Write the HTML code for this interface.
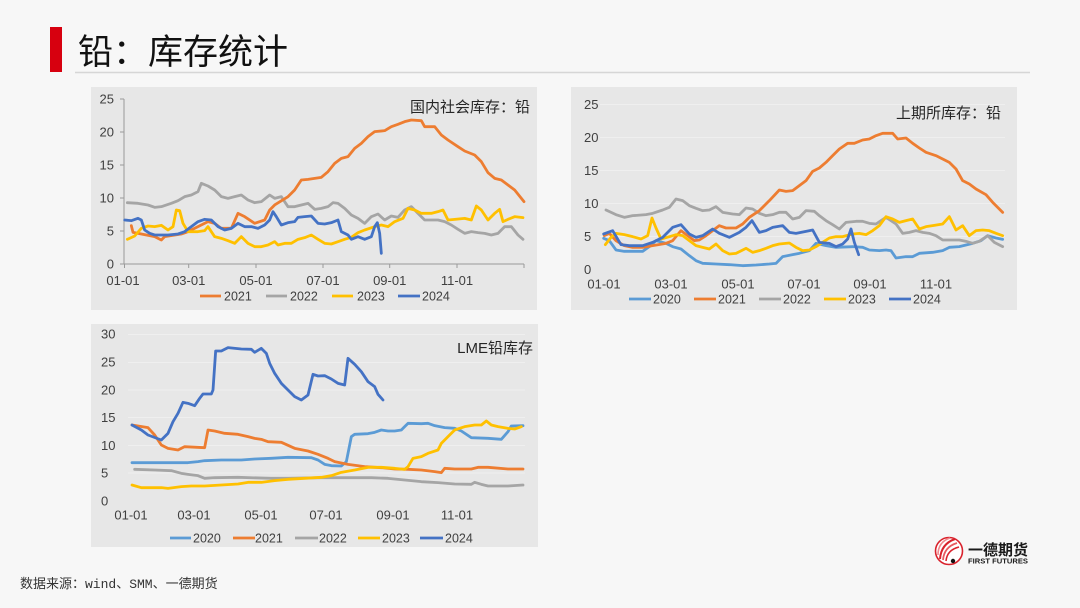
<!DOCTYPE html>
<html><head><meta charset="utf-8"><style>
html,body{margin:0;padding:0;background:#f7f7f7;}
svg{display:block;}
text{font-family:"Liberation Sans","Noto Sans CJK SC",sans-serif;}
.t{font-size:13px;fill:#404040;}
.l{font-size:12.5px;fill:#404040;}
.ttl{font-family:"Liberation Sans","Noto Sans CJK SC",sans-serif;font-size:15px;fill:#262626;}
.s{fill:none;stroke-width:2.8;stroke-linejoin:round;stroke-linecap:round;vector-effect:non-scaling-stroke;}
.c20{stroke:#5b9bd5}.c21{stroke:#ed7d31}.c22{stroke:#a5a5a5}.c23{stroke:#ffc000}.c24{stroke:#4472c4}
.g{stroke:#efefef;stroke-width:1;}
</style></head><body>
<svg width="1080" height="608" viewBox="0 0 1080 608" xmlns="http://www.w3.org/2000/svg">
<rect x="0" y="0" width="1080" height="608" fill="#f7f7f7"/>
<!-- header -->
<rect x="50" y="27" width="12" height="45" fill="#d7000f"/>
<text x="78" y="64" style="font-family:'Liberation Sans','Noto Sans CJK SC',sans-serif;font-size:35px;fill:#111;">铅：库存统计</text>
<line x1="75" y1="72.5" x2="1030" y2="72.5" stroke="#d6d6d6" stroke-width="1.5"/>

<!-- panels -->
<rect x="91" y="87" width="446" height="223" fill="#e7e7e7"/>
<rect x="571" y="87" width="446" height="223" fill="#e7e7e7"/>
<rect x="91" y="324" width="447" height="223" fill="#e7e7e7"/>

<!-- ===== Chart 1 ===== -->
<line x1="124" y1="99" x2="124" y2="264" stroke="#9a9a9a" stroke-width="1"/>
<line x1="124" y1="264" x2="524" y2="264" stroke="#9a9a9a" stroke-width="1"/>
<g stroke="#9a9a9a" stroke-width="1">
<line x1="120" y1="99" x2="124" y2="99"/><line x1="120" y1="132" x2="124" y2="132"/><line x1="120" y1="165" x2="124" y2="165"/><line x1="120" y1="198" x2="124" y2="198"/><line x1="120" y1="231" x2="124" y2="231"/><line x1="120" y1="264" x2="124" y2="264"/>
<line x1="124.5" y1="264" x2="124.5" y2="268"/><line x1="188.7" y1="264" x2="188.7" y2="268"/><line x1="256" y1="264" x2="256" y2="268"/><line x1="323" y1="264" x2="323" y2="268"/><line x1="389.7" y1="264" x2="389.7" y2="268"/><line x1="457" y1="264" x2="457" y2="268"/><line x1="524" y1="264" x2="524" y2="268"/>
</g>
<g class="t" text-anchor="end">
<text x="114" y="103.5">25</text><text x="114" y="136.5">20</text><text x="114" y="169.5">15</text><text x="114" y="202.5">10</text><text x="114" y="235.5">5</text><text x="114" y="268.5">0</text>
</g>
<g class="t" text-anchor="middle">
<text x="123" y="285">01-01</text><text x="188.7" y="285">03-01</text><text x="256" y="285">05-01</text><text x="323" y="285">07-01</text><text x="389.7" y="285">09-01</text><text x="457" y="285">11-01</text>
</g>
<text class="ttl" x="530" y="112" text-anchor="end">国内社会库存：铅</text>
<g transform="translate(88,80) scale(0.33333)">
<polyline class="s c22" points="118,368 150,370 180,375 200,382 220,380 250,370 270,362 290,350 310,345 330,335 340,310 360,318 380,330 400,350 420,355 440,350 460,345 480,360 500,368 520,365 545,345 560,355 580,350 600,380 620,380 640,375 660,370 680,388 700,385 720,380 735,368 750,370 770,385 790,405 810,415 830,430 850,410 870,402 890,420 910,408 930,412 950,390 970,380 990,400 1010,420 1050,420 1070,425 1090,435 1110,448 1130,460 1150,455 1170,458 1190,460 1210,465 1230,460 1250,440 1270,440 1290,465 1305,478"/>
<polyline class="s c21" points="130,437 135,457 160,462 200,470 220,480 230,470 280,462 300,455 330,440 360,425 380,430 400,445 430,445 450,400 470,410 500,430 530,420 545,390 560,375 600,350 620,330 640,300 660,298 700,292 720,275 740,250 760,235 780,230 800,205 820,190 840,170 860,155 890,152 910,140 930,133 950,125 970,120 1000,122 1010,140 1040,140 1060,165 1080,180 1110,200 1130,213 1160,225 1180,245 1200,278 1220,295 1240,300 1260,315 1280,330 1308,365"/>
<polyline class="s c23" points="118,478 140,468 160,445 180,438 200,440 220,436 240,450 255,440 265,390 275,392 285,430 300,455 330,455 350,452 360,440 380,470 400,475 420,482 440,490 460,470 480,490 500,500 520,500 540,495 560,485 570,495 590,490 610,490 630,478 650,473 670,465 690,478 710,490 730,492 750,485 770,478 790,472 810,458 830,450 860,440 880,435 900,440 920,425 945,415 960,385 980,390 1000,400 1030,400 1050,395 1065,390 1080,420 1100,418 1130,415 1150,420 1165,378 1180,390 1200,420 1220,400 1235,388 1245,425 1260,418 1280,410 1305,413"/>
<polyline class="s c24" points="110,420 130,422 150,415 160,420 170,450 185,460 200,465 240,465 270,462 290,455 310,440 330,425 350,418 370,420 390,440 410,450 430,445 450,430 470,440 490,440 510,445 530,435 545,420 555,395 565,410 580,435 600,428 620,425 630,412 650,410 670,408 690,430 710,432 730,428 750,420 760,455 780,465 790,478 810,470 830,478 850,470 860,440 868,428 875,460 880,520"/>
</g>
<g stroke-width="2.8">
<line x1="200" y1="296" x2="221" y2="296" stroke="#ed7d31"/><line x1="266" y1="296" x2="287" y2="296" stroke="#a5a5a5"/><line x1="332" y1="296" x2="353" y2="296" stroke="#ffc000"/><line x1="398" y1="296" x2="420" y2="296" stroke="#4472c4"/>
</g>
<g class="l">
<text x="224" y="300.5">2021</text><text x="290" y="300.5">2022</text><text x="357" y="300.5">2023</text><text x="422" y="300.5">2024</text>
</g>

<!-- ===== Chart 2 ===== -->
<g class="g">
<line x1="600" y1="104.5" x2="1005" y2="104.5"/><line x1="600" y1="137.5" x2="1005" y2="137.5"/><line x1="600" y1="170.5" x2="1005" y2="170.5"/><line x1="600" y1="203.5" x2="1005" y2="203.5"/><line x1="600" y1="236.5" x2="1005" y2="236.5"/>
</g>
<g class="t">
<text x="584" y="109">25</text><text x="584" y="142">20</text><text x="584" y="175">15</text><text x="584" y="208">10</text><text x="584" y="241">5</text><text x="584" y="274">0</text>
</g>
<g class="t" text-anchor="middle">
<text x="604" y="288.5">01-01</text><text x="671" y="288.5">03-01</text><text x="738" y="288.5">05-01</text><text x="804" y="288.5">07-01</text><text x="870" y="288.5">09-01</text><text x="936" y="288.5">11-01</text>
</g>
<text class="ttl" x="1001" y="118" text-anchor="end">上期所库存：铅</text>
<g transform="translate(566,84) scale(0.33333)">
<polyline class="s c20" points="113,463 130,470 150,498 175,502 230,502 250,488 270,470 300,478 320,488 345,495 370,515 390,530 410,538 450,540 490,542 530,545 570,543 610,540 630,538 650,518 680,512 700,508 730,500 750,478 780,485 810,490 860,488 890,490 910,498 940,500 960,498 975,500 990,522 1020,518 1040,518 1060,508 1100,505 1130,500 1150,490 1180,488 1220,478 1245,470 1265,455 1290,462 1310,466"/>
<polyline class="s c22" points="120,378 150,392 175,400 200,395 240,392 260,388 290,378 310,370 330,345 350,350 370,365 390,373 410,380 430,378 450,368 470,385 500,390 520,392 540,372 560,375 580,388 600,395 620,392 640,385 660,385 680,405 700,400 720,380 745,382 760,395 780,410 800,422 820,435 840,415 870,412 890,412 910,418 930,420 960,400 990,420 1010,448 1030,445 1050,440 1070,445 1090,448 1110,455 1130,468 1160,468 1180,468 1200,472 1220,478 1240,472 1265,455 1285,475 1310,488"/>
<polyline class="s c21" points="115,455 130,448 150,470 175,485 200,490 230,490 260,485 300,478 320,470 345,440 365,455 385,470 400,468 420,455 440,440 460,425 480,432 510,432 530,420 550,400 580,380 610,350 640,318 660,322 680,320 700,305 720,290 740,262 760,252 780,235 800,215 820,195 845,178 865,178 890,168 910,165 930,155 950,148 980,148 995,165 1020,162 1040,178 1060,192 1080,205 1110,215 1130,225 1150,235 1170,255 1190,290 1210,300 1230,315 1260,332 1280,355 1310,385"/>
<polyline class="s c23" points="118,482 135,460 150,448 175,452 200,458 225,465 245,455 258,402 270,432 285,465 310,458 330,452 350,455 370,470 390,485 410,490 430,495 450,480 470,500 490,510 510,508 540,493 560,505 580,500 600,493 620,485 640,480 670,477 690,490 710,500 730,498 750,488 770,475 790,462 810,458 830,458 860,450 880,448 900,452 920,440 940,425 960,398 980,405 1000,415 1020,410 1040,405 1060,435 1080,428 1100,425 1130,420 1150,398 1170,438 1190,425 1210,455 1230,440 1250,438 1270,440 1290,448 1310,455"/>
<polyline class="s c24" points="113,450 140,440 165,482 190,485 230,485 260,475 290,460 320,430 345,422 370,450 390,460 410,455 440,435 460,448 490,460 520,445 540,430 558,410 580,445 600,440 620,430 650,425 670,445 690,448 720,442 740,438 760,475 790,478 810,488 830,480 845,465 855,435 865,475 878,512"/>
</g>
<g stroke-width="2.8">
<line x1="629" y1="299" x2="651" y2="299" stroke="#5b9bd5"/><line x1="694" y1="299" x2="716" y2="299" stroke="#ed7d31"/><line x1="759" y1="299" x2="781" y2="299" stroke="#a5a5a5"/><line x1="824" y1="299" x2="846" y2="299" stroke="#ffc000"/><line x1="889" y1="299" x2="911" y2="299" stroke="#4472c4"/>
</g>
<g class="l">
<text x="653" y="303.5">2020</text><text x="718" y="303.5">2021</text><text x="783" y="303.5">2022</text><text x="848" y="303.5">2023</text><text x="913" y="303.5">2024</text>
</g>

<!-- ===== Chart 3 ===== -->
<g class="g">
<line x1="128" y1="334.5" x2="525" y2="334.5"/><line x1="128" y1="362.5" x2="525" y2="362.5"/><line x1="128" y1="390" x2="525" y2="390"/><line x1="128" y1="417.5" x2="525" y2="417.5"/><line x1="128" y1="445.5" x2="525" y2="445.5"/><line x1="128" y1="473" x2="525" y2="473"/>
</g>
<g class="t">
<text x="101" y="338.5">30</text><text x="101" y="366.5">25</text><text x="101" y="394.5">20</text><text x="101" y="422">15</text><text x="101" y="450">10</text><text x="101" y="477.5">5</text><text x="101" y="505.5">0</text>
</g>
<g class="t" text-anchor="middle">
<text x="131" y="519.5">01-01</text><text x="194" y="519.5">03-01</text><text x="261" y="519.5">05-01</text><text x="326" y="519.5">07-01</text><text x="393" y="519.5">09-01</text><text x="457" y="519.5">11-01</text>
</g>
<text class="ttl" x="533" y="353" text-anchor="end">LME铅库存</text>
<g transform="translate(88,315) scale(0.33333)">
<polyline class="s c22" points="140,463 200,465 250,467 280,475 300,478 330,482 350,490 380,488 450,487 550,490 600,490 700,488 760,488 850,488 900,490 950,495 1000,500 1050,503 1100,507 1150,508 1160,502 1180,508 1200,513 1260,513 1305,510"/>
<polyline class="s c20" points="132,443 300,443 330,440 350,437 400,435 460,435 500,432 550,430 600,427 670,428 690,435 710,448 730,452 760,453 775,440 790,365 800,358 840,356 860,352 880,345 900,348 920,348 940,345 950,335 960,325 1000,326 1020,325 1040,332 1070,338 1100,340 1120,348 1150,368 1200,370 1240,373 1260,350 1270,333 1305,332"/>
<polyline class="s c21" points="132,330 180,338 200,360 220,390 240,400 270,405 290,395 350,398 360,345 380,348 410,355 450,358 480,365 500,370 520,373 540,380 580,382 620,400 660,408 690,418 720,430 740,440 780,448 830,455 880,458 920,462 960,463 1000,465 1040,470 1060,473 1070,460 1100,462 1150,462 1170,457 1200,457 1260,462 1305,462"/>
<polyline class="s c23" points="132,510 160,518 220,518 240,520 280,515 310,513 350,513 400,510 450,507 480,502 520,502 560,497 600,493 650,490 700,487 730,482 760,472 800,465 840,457 880,457 920,460 950,463 960,455 975,430 1000,425 1020,415 1050,405 1060,385 1080,365 1100,345 1130,335 1160,330 1180,330 1195,318 1210,330 1230,335 1260,340 1280,342 1300,335"/>
<polyline class="s c24" points="132,330 160,345 180,360 220,375 240,355 255,320 270,295 285,262 300,265 320,272 335,250 345,237 370,237 375,225 383,108 400,108 420,98 460,102 490,103 500,112 520,100 535,115 545,145 560,175 580,205 600,225 620,245 640,255 660,240 675,178 690,183 710,182 730,192 750,205 770,210 780,130 800,148 820,170 840,200 860,215 870,238 885,255"/>
</g>
<g stroke-width="2.8">
<line x1="170" y1="538" x2="191" y2="538" stroke="#5b9bd5"/><line x1="233" y1="538" x2="255" y2="538" stroke="#ed7d31"/><line x1="295" y1="538" x2="318" y2="538" stroke="#a5a5a5"/><line x1="358" y1="538" x2="380" y2="538" stroke="#ffc000"/><line x1="420" y1="538" x2="443" y2="538" stroke="#4472c4"/>
</g>
<g class="l">
<text x="193" y="542.5">2020</text><text x="255" y="542.5">2021</text><text x="319" y="542.5">2022</text><text x="382" y="542.5">2023</text><text x="445" y="542.5">2024</text>
</g>

<!-- footer -->
<text x="20" y="588" style="font-family:'Liberation Mono','Noto Sans CJK SC',monospace;font-size:13px;fill:#333;">数据来源：wind、SMM、一德期货</text>

<!-- logo -->
<g>
<circle cx="949" cy="551" r="13.5" fill="#fff" stroke="#d9232d" stroke-width="1.6"/>
<path d="M940,559 Q941,544 955,539" fill="none" stroke="#d9232d" stroke-width="2"/>
<path d="M943,560 Q944,547 957,543" fill="none" stroke="#e85a60" stroke-width="1.8"/>
<path d="M946,561 Q947,550 959,547" fill="none" stroke="#d9232d" stroke-width="1.6"/>
<path d="M938,555 Q938,542 950,538" fill="none" stroke="#f08a8e" stroke-width="1.6"/>
<circle cx="953" cy="561" r="2.2" fill="#111"/>
<text x="968" y="555" style="font-family:'Liberation Sans','Noto Sans CJK SC',sans-serif;font-size:15px;font-weight:bold;fill:#1a1a1a;">一德期货</text>
<text x="968" y="563.5" style="font-family:'Liberation Sans',sans-serif;font-size:7px;font-weight:bold;fill:#1a1a1a;" textLength="60" lengthAdjust="spacingAndGlyphs">FIRST FUTURES</text>
</g>
</svg>
</body></html>
